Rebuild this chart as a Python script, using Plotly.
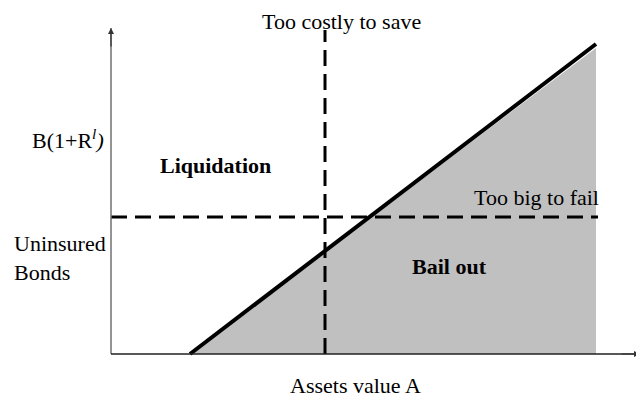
import plotly.graph_objects as go

# Conceptual chart values (axis units, origin at axes corner)
line_x = [79, 485]          # asset value range of the bail-out boundary
line_y = [0, 310]           # required payoff B(1+R^l)
too_big_level = 137         # uninsured bonds threshold
too_costly_x = 214          # asset value beyond which saving is too costly
axis_x_max = 529
axis_y_max = 326

FONT = "Liberation Serif, Times New Roman, serif"

fig = go.Figure()

# shaded bail-out region
fig.add_trace(go.Scatter(
    x=[line_x[0], line_x[1], line_x[1], line_x[0]],
    y=[line_y[0], line_y[1] - 4, 0, 0],
    fill="toself", fillcolor="#c0c0c0", line=dict(width=0),
    mode="lines", hoverinfo="skip", showlegend=False))

# horizontal dashed line
fig.add_trace(go.Scatter(
    x=[0, line_x[1] + 2], y=[too_big_level, too_big_level],
    mode="lines", line=dict(color="black", width=3, dash="16px,8px"),
    hoverinfo="skip", showlegend=False))

# vertical dashed line
fig.add_trace(go.Scatter(
    x=[too_costly_x, too_costly_x], y=[0, axis_y_max - 2],
    mode="lines", line=dict(color="black", width=3, dash="16px,8px"),
    hoverinfo="skip", showlegend=False))

# diagonal boundary
fig.add_trace(go.Scatter(
    x=line_x, y=line_y, mode="lines",
    line=dict(color="black", width=4),
    hoverinfo="skip", showlegend=False))

# axes lines
fig.add_trace(go.Scatter(
    x=[0, 0], y=[0, axis_y_max], mode="lines",
    line=dict(color="#707070", width=1.5),
    hoverinfo="skip", showlegend=False))
fig.add_trace(go.Scatter(
    x=[0, axis_x_max], y=[0, 0], mode="lines",
    line=dict(color="#202020", width=1.5),
    hoverinfo="skip", showlegend=False))

annotations = [
    dict(x=0, y=axis_y_max, ax=0, ay=axis_y_max - 20, axref="x", ayref="y",
         showarrow=True, arrowhead=2, arrowsize=1, arrowwidth=1.2,
         arrowcolor="#333333", text=""),
    dict(x=axis_x_max, y=0, ax=axis_x_max - 20, ay=0, axref="x", ayref="y",
         showarrow=True, arrowhead=2, arrowsize=1, arrowwidth=1.2,
         arrowcolor="#333333", text=""),
    dict(x=230, y=333, text="Too costly to save", showarrow=False),
    dict(x=-5, y=215, text="B(1+R<sup><i>l</i></sup><i>)</i>", xanchor="right", showarrow=False),
    dict(x=104, y=189, text="<b>Liquidation</b>", showarrow=False),
    dict(x=425, y=157, text="Too big to fail", showarrow=False),
    dict(x=-99, y=111, text="Uninsured", xanchor="left", showarrow=False),
    dict(x=-99, y=82, text="Bonds", xanchor="left", showarrow=False),
    dict(x=338, y=88, text="<b>Bail out</b>", showarrow=False),
    dict(x=244, y=-31, text="Assets value A", showarrow=False),
]

fig.update_layout(
    width=636, height=392,
    margin=dict(l=0, r=0, t=0, b=0),
    paper_bgcolor="white", plot_bgcolor="white",
    font=dict(family=FONT, size=22, color="black"),
    xaxis=dict(range=[-103, 533], visible=False, fixedrange=True),
    yaxis=dict(range=[-46, 346], visible=False, fixedrange=True),
    annotations=annotations,
    showlegend=False,
)

fig.write_html("out.html")
